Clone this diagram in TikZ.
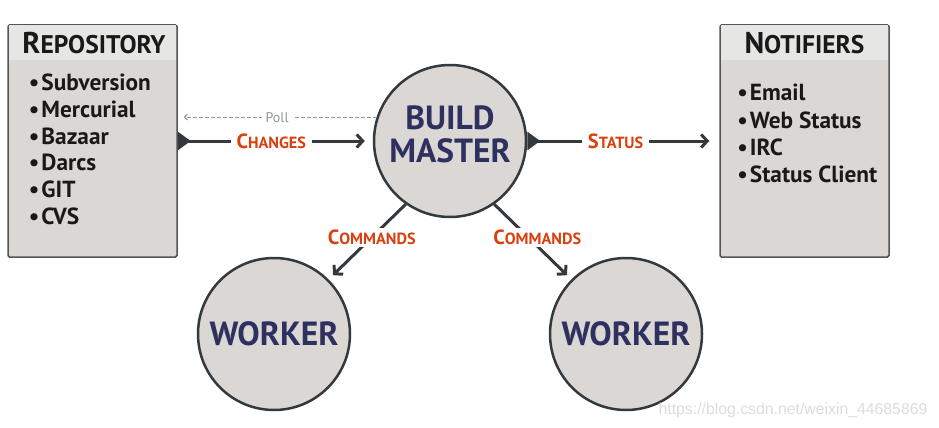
\documentclass[tikz,border=0pt]{standalone}
\usepackage{fontspec}
\setmainfont{PT Sans}
\setsansfont{Liberation Sans}
\usetikzlibrary{arrows.meta,positioning,calc}
\definecolor{boxgray}{HTML}{DAD7D4}
\definecolor{headgray}{HTML}{E6E7E4}
\definecolor{inkdark}{HTML}{33393D}
\definecolor{rimgray}{HTML}{505558}
\definecolor{navy}{HTML}{2E3160}
\definecolor{rust}{HTML}{D9400F}
\definecolor{pollgray}{HTML}{8C979C}
\definecolor{stampgray}{HTML}{DCDCDC}
\newcommand\ttl[2]{{\fontsize{30}{30}\selectfont #1}{\fontsize{25.5}{25.5}\selectfont #2}}
\newcommand\lbl[2]{{\fontsize{20.5}{20.5}\selectfont #1}{\fontsize{16.2}{16.2}\selectfont #2}}
\tikzset{
feed/.style={{Triangle[reversed,length=13pt,width=18pt]}-{Straight Barb[length=6pt,width=13pt]},line width=3pt,draw=inkdark},
order/.style={-{Straight Barb[length=6pt,width=13pt]},line width=3pt,draw=inkdark},
poll/.style={-{Straight Barb[length=3pt,width=6pt]},dash pattern=on 4pt off 2pt,line width=1pt,draw=pollgray},
lbl/.style={fill=white,text=rust,font=\bfseries,inner xsep=6pt,inner ysep=2pt},
machine/.style={circle,draw=inkdark,line width=2.5pt,fill=boxgray,minimum size=152pt,inner sep=0pt,
  text=navy,font=\bfseries\fontsize{33.5}{33}\selectfont,align=center},
panel/.style={rectangle,draw=rimgray,line width=1.5pt,fill=boxgray,rounded corners=1.5pt,
  minimum width=169pt,minimum height=232pt},
panelhead/.style={rectangle,fill=headgray,minimum width=167.5pt,minimum height=35.25pt,inner sep=0pt,
  anchor=north,text=black!90,font=\bfseries},
entry/.style={anchor=base west,inner sep=0pt,text=black!90,font=\bfseries\fontsize{23.3}{23.3}\selectfont}
}
\begin{document}
\begin{tikzpicture}[x=1pt,y=-1pt]
\useasboundingbox (0,0) rectangle (939,428);
%%% build master
\node[machine,text height=56pt,text depth=14pt] (master) at (450,141) {BUILD\\MASTER};
%%% repository & notifiers
\node[panel,left=195pt of master] (repo) {};
\node[panel,right=192pt of master] (notif) {};
\node[panelhead,below=0.75pt] (repohead) at (repo.north) {\hspace{3pt}\ttl{R}{EPOSITORY}};
\node[panelhead,below=0.75pt] (notifhead) at (notif.north) {\ttl{N}{OTIFIERS}};
\foreach \vcs [count=\k] in {Subversion,Mercurial,Bazaar,Darcs,GIT,CVS}
  \node[entry] (repoitem\k) at ($(repo.north west)+(21.5,40+26.66*\k)$) {•\hspace{2pt}\vcs};
\foreach \notifier [count=\k] in {Email,Web Status,IRC,Status Client}
  \node[entry] (notifitem\k) at ($(notif.north west)+(18,49.5+27.2*\k)$) {•\hspace{2pt}\notifier};
%%% workers
\node[machine] (wk1) at ($(master)+(-176,193)$) {WORKER};
\node[machine] (wk2) at ($(master)+(176,193)$) {WORKER};
%%% connectors
\coordinate (pollend) at (repo.east |- master.162);
\draw[poll,shorten >=6pt] (master.162) -- (pollend)
  node[pos=0.5,fill=white,text=pollgray,inner xsep=4pt,inner ysep=1pt,font=\fontsize{14}{14}\selectfont] (polltxt) {Poll};
\draw[feed,shorten >=8pt] (repo.east) -- (master.west)
  node[lbl,pos=0.48] (changes) {\lbl{C}{HANGES}};
\draw[feed,shorten >=10pt] (master.east) -- (notif.west)
  node[lbl,pos=0.46] (status) {\lbl{S}{TATUS}};
\draw[order,shorten >=6pt] (master.235) -- (wk1.45)
  node[lbl,pos=0.44] (cmd1) {\lbl{C}{OMMANDS}};
\draw[order,shorten >=6pt] (master.305) -- (wk2.135)
  node[lbl,pos=0.44,xshift=9pt] (cmd2) {\lbl{C}{OMMANDS}};
%%% stamp
\node[text=stampgray,font=\sffamily\fontsize{15.8}{15.8}\selectfont] (stamp) at (793,410) {https://blog.csdn.net/weixin\_44685869};
\end{tikzpicture}
\end{document}
